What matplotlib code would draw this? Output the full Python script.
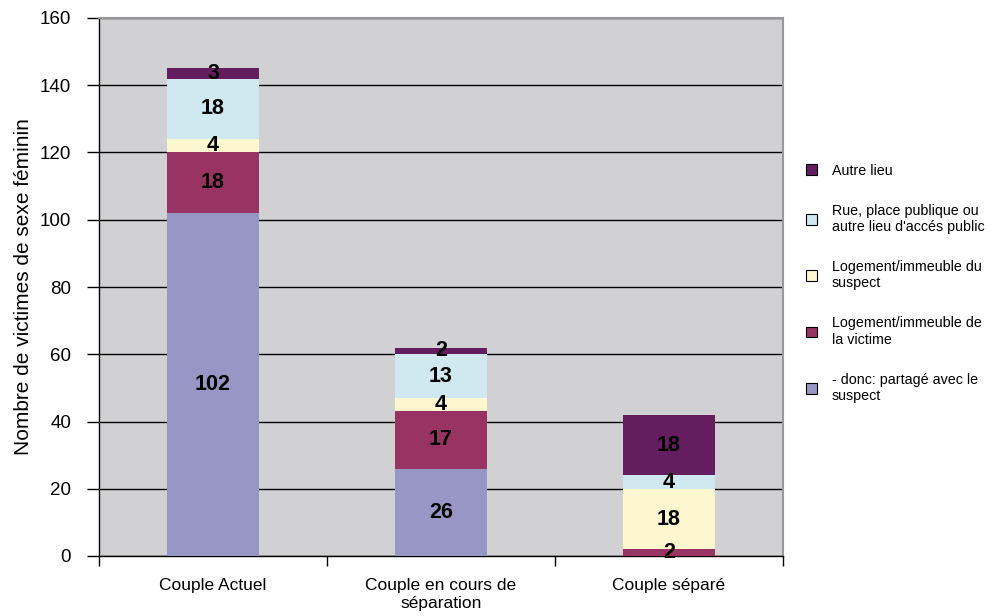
import matplotlib
matplotlib.use("Agg")
import matplotlib.pyplot as plt
import numpy as np
from matplotlib.patches import Patch

plt.rcParams['font.family'] = ['Liberation Sans', 'DejaVu Sans']

categories = ["Couple Actuel", "Couple en cours de\nséparation", "Couple séparé"]
series_names = [
    "- donc: partagé avec le\nsuspect",
    "Logement/immeuble de\nla victime",
    "Logement/immeuble du\nsuspect",
    "Rue, place publique ou\nautre lieu d'accés public",
    "Autre lieu",
]
donc_partage = [102, 26, 0]
logement_victime = [18, 17, 2]
logement_suspect = [4, 4, 18]
rue_publique = [18, 13, 4]
autre_lieu = [3, 2, 18]
series_values = [donc_partage, logement_victime, logement_suspect, rue_publique, autre_lieu]
colors = ["#9896c4", "#993363", "#fdf7d0", "#d0e9f1", "#641d5f"]
y_ticks = [0, 20, 40, 60, 80, 100, 120, 140, 160]

fig = plt.figure(figsize=(9.93, 6.16), dpi=100)
ax = fig.add_axes([99 / 993, 1 - 556 / 616, (783 - 99) / 993, (556 - 18) / 616])
ax.set_facecolor("#d1d1d3")

x = np.arange(len(categories))
bottom = np.zeros(len(categories))
for vals, col in zip(series_values, colors):
    v = np.array(vals, dtype=float)
    ax.bar(x, v, bottom=bottom, width=0.40, color=col, zorder=3)
    for xi, (b, h) in enumerate(zip(bottom, v)):
        if h > 0:
            ax.text(xi, b + h / 2, f"{int(h)}", ha="center", va="center",
                    fontsize=15.5, fontweight="bold", color="black", zorder=4)
    bottom += v

ax.set_xlim(-0.5, len(categories) - 0.5)
ax.set_ylim(0, 160)
ax.set_yticks(y_ticks)
ax.set_yticklabels([str(t) for t in y_ticks], fontsize=13.5)
ax.yaxis.grid(True, color="black", linewidth=1.0, zorder=1)
ax.set_axisbelow(True)

ax.set_xticks(x)
ax.set_xticklabels(categories, fontsize=12.5)
ax.tick_params(axis="x", length=0, pad=16)
ax.set_xticks(np.arange(len(categories) + 1) - 0.5, minor=True)
ax.tick_params(axis="x", which="minor", length=7, width=1, color="black")
ax.tick_params(axis="y", length=9, width=1, color="black", pad=11)

ax.set_ylabel("Nombre de victimes de sexe féminin", fontsize=15, labelpad=5)

for s in ["top", "right"]:
    ax.spines[s].set_color("#999999")
    ax.spines[s].set_linewidth(1.5)
for s in ["left", "bottom"]:
    ax.spines[s].set_color("black")
    ax.spines[s].set_linewidth(1)

handles = [Patch(facecolor=c, edgecolor="black", linewidth=0.8) for c in colors]
leg = fig.legend(handles[::-1], series_names[::-1], loc="upper left",
                 bbox_to_anchor=(793 / 993, 1 - 151 / 616), frameon=False,
                 fontsize=10.3, handlelength=0.8, handleheight=0.8,
                 handletextpad=1.0, labelspacing=1.82)

fig.savefig("out.png", dpi=100)
